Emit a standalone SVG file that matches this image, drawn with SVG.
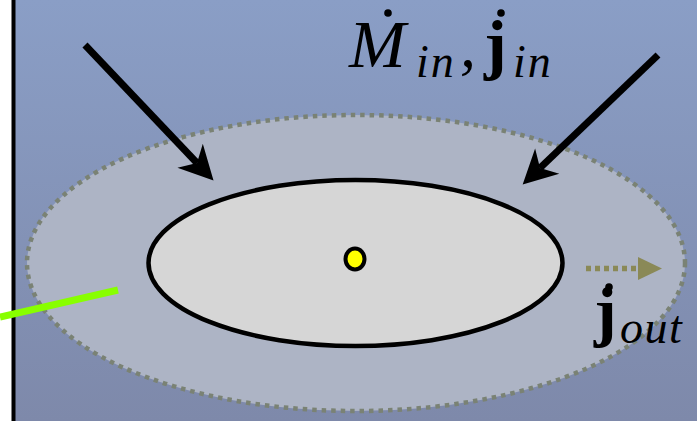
<svg xmlns="http://www.w3.org/2000/svg" width="697" height="421" viewBox="0 0 697 421">
<defs>
<linearGradient id="bg" x1="0" y1="0" x2="0" y2="1">
<stop offset="0" stop-color="#8a9ec6"/>
<stop offset="1" stop-color="#7e89aa"/>
</linearGradient>
<marker id="stealth" markerUnits="userSpaceOnUse" markerWidth="60" markerHeight="60" refX="0" refY="0" orient="auto" overflow="visible">
<path d="M 24,0 L -10,-17.5 L 0,0 L -10,17.5 Z" fill="#000"/>
</marker>
<marker id="tri" markerUnits="userSpaceOnUse" markerWidth="30" markerHeight="30" refX="0" refY="0" orient="auto" overflow="visible">
<path d="M 0,-11.5 L 24,0 L 0,11.5 Z" fill="#8a8957"/>
</marker>
<style>
.math{font-family:"Liberation Serif","DejaVu Serif",serif;font-style:italic;fill:#000}
.bold{font-family:"Liberation Serif","DejaVu Serif",serif;font-weight:bold;fill:#000}
</style>
</defs>
<rect x="0" y="0" width="697" height="421" fill="#fff"/>
<rect x="14" y="0" width="683" height="421" fill="url(#bg)"/>
<line x1="13.5" y1="0" x2="13.5" y2="421" stroke="#000" stroke-width="4"/>

<g id="outer-region">
<ellipse cx="356" cy="263" rx="329" ry="148" fill="#adb4c5" stroke="#7a8274" stroke-width="4.5" stroke-dasharray="4.5 5"/>
</g>
<g id="inner-body">
<ellipse cx="355.5" cy="263" rx="207" ry="83" fill="#d6d6d6" stroke="#000" stroke-width="4.5"/>
</g>
<g id="center-point">
<ellipse cx="355" cy="259" rx="9.5" ry="10.5" fill="#ffff00" stroke="#000" stroke-width="4"/>
</g>

<g id="connectors">
<line x1="85" y1="45" x2="197" y2="163" stroke="#000" stroke-width="7" marker-end="url(#stealth)"/>
<line x1="658" y1="55" x2="540" y2="168" stroke="#000" stroke-width="7" marker-end="url(#stealth)"/>
<line x1="0" y1="317" x2="118" y2="290" stroke="#88ff00" stroke-width="7"/>
<line x1="586" y1="268.5" x2="638" y2="268.5" stroke="#8a8957" stroke-width="5.5" stroke-dasharray="5 4" marker-end="url(#tri)"/>
</g>

<g id="label-in">
<text class="math" x="349" y="67" font-size="68">M</text>
<circle cx="388" cy="13" r="3.8" fill="#000"/>
<text class="math" x="416" y="77" font-size="46" letter-spacing="2">in</text>
<text class="math" x="460" y="67" font-size="64">,</text>
<text class="bold" x="484" y="67" font-size="68">j</text>
<circle cx="501" cy="13" r="3.8" fill="#000"/>
<text class="math" x="513" y="77" font-size="46" letter-spacing="2">in</text>
</g>
<g id="label-out">
<text class="bold" x="594" y="334" font-size="68">j</text>
<circle cx="609" cy="287" r="3.8" fill="#000"/>
<text class="math" x="620" y="343" font-size="46" letter-spacing="1.5">out</text>
</g>
</svg>
